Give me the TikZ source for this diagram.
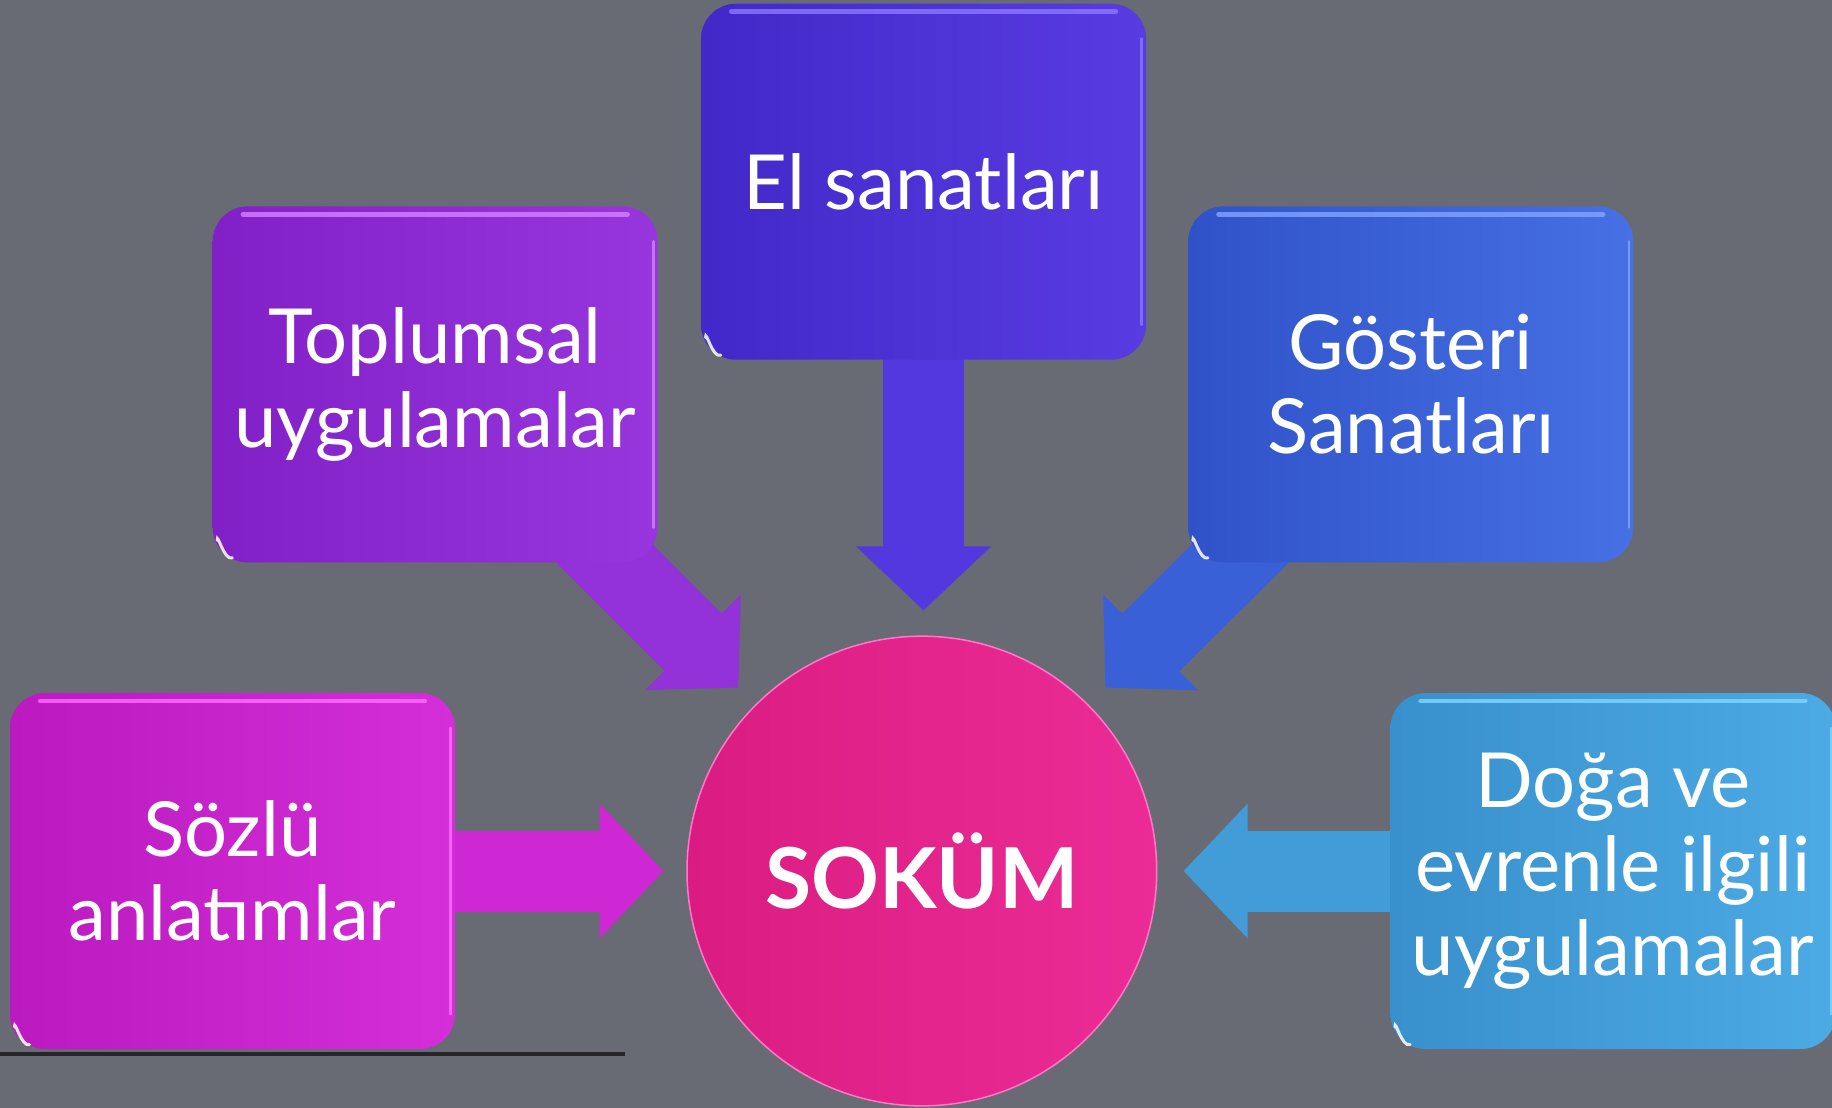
\documentclass[tikz,border=0pt]{standalone}
\usepackage{fontspec}
\setmainfont{Lato}
\usetikzlibrary{arrows.meta,calc}
\pgfdeclarelayer{bg}\pgfdeclarelayer{arr}\pgfsetlayers{bg,arr,main}
\definecolor{bggray}{RGB}{104,106,116}
\definecolor{elA}{RGB}{66,40,200}\definecolor{elB}{RGB}{88,60,226}\definecolor{elHi}{RGB}{140,120,255}
\definecolor{topA}{RGB}{128,32,198}\definecolor{topB}{RGB}{152,54,222}\definecolor{topHi}{RGB}{215,130,255}
\definecolor{gosA}{RGB}{48,82,200}\definecolor{gosB}{RGB}{70,112,228}\definecolor{gosHi}{RGB}{130,165,255}
\definecolor{sozA}{RGB}{186,26,192}\definecolor{sozB}{RGB}{212,46,216}\definecolor{sozHi}{RGB}{255,110,255}
\definecolor{dogA}{RGB}{56,144,204}\definecolor{dogB}{RGB}{76,170,228}\definecolor{dogHi}{RGB}{130,215,255}
\definecolor{sokA}{RGB}{218,28,130}\definecolor{sokB}{RGB}{236,44,150}\definecolor{sokHi}{RGB}{255,120,200}
\definecolor{elArr}{RGB}{82,56,222}\definecolor{topArr}{RGB}{146,50,216}\definecolor{gosArr}{RGB}{58,96,216}
\definecolor{sozArr}{RGB}{206,40,212}\definecolor{dogArr}{RGB}{66,156,216}
\begin{document}
\begin{tikzpicture}[x=1.16837pt,y=-1.16837pt,
  box/.style={rounded corners=35pt, minimum width=445pt, minimum height=356pt,
    align=center, text=white, inner sep=0pt, font=\fontsize{76}{84}\selectfont},
  blockarrow/.style={line width=81pt, -{Triangle[length=64pt,width=131pt]}},
  hiline/.style={line width=4.5pt, line cap=round, opacity=0.8},
  corner/.style={white, line width=3pt, line cap=round, opacity=0.85}]
\useasboundingbox (0,0) rectangle (1568,948);
\begin{pgfonlayer}{bg}
  \fill[bggray] (0,0) rectangle (1568,948);
  \draw[line width=3.5pt, black!85] (0,902) -- (535,902);
\end{pgfonlayer}

\node[box, left color=elA, right color=elB] (el) at (790.5,155.5) {El sanatları};
\node[box, left color=topA, right color=topB] (top) at (372.5,329) {Toplumsal\\uygulamalar};
\node[box, left color=gosA, right color=gosB] (gos) at (1207.5,329) {Gösteri\\Sanatları};
\node[box, left color=sozA, right color=sozB] (soz) at (199,745.5) {Sözlü\\anlatımlar};
\node[box, left color=dogA, right color=dogB] (dog) at (1380.5,745.5) {Doğa ve\\evrenle ilgili\\uygulamalar};
\node[circle, minimum size=469.7pt, inner sep=0pt, left color=sokA, right color=sokB,
  draw=sokHi, line width=1.5pt, text=white, font=\fontsize{84}{90}\selectfont\bfseries]
  (sok) at (789,745.5) {SOKÜM};

\coordinate (tEl) at ($(sok.center)+(0,-223)$);
\coordinate (tTop) at ($(sok.center)+(-157,-157)$);
\coordinate (tGos) at ($(sok.center)+(157,-157)$);
\coordinate (tSoz) at ($(sok.center)+(-221,0)$);
\coordinate (tDog) at ($(sok.center)+(224,0)$);

\begin{pgfonlayer}{arr}
  \draw[blockarrow, elArr] (el.center) -- (el.center |- tEl);
  \draw[blockarrow, topArr] (top.center) -- (tTop);
  \draw[blockarrow, gosArr] (gos.center) -- (tGos);
  \draw[blockarrow, sozArr] (soz.center) -- (tSoz);
  \draw[blockarrow, dogArr] (dog.center) -- (tDog);
\end{pgfonlayer}

\foreach \n/\c in {el/elHi, top/topHi, gos/gosHi, soz/sozHi, dog/dogHi}{
  \draw[hiline, \c] ($(\n.north west)+(26,7)$) -- ($(\n.north east)+(-26,7)$);
  \draw[hiline, \c, line width=2.5pt] ($(\n.north east)+(-4,30)$) -- ($(\n.south east)+(-4,-30)$);
  \draw[corner] ($(\n.south west)+(4,-19)$) to[out=90,in=200] ($(\n.south west)+(17,-4)$);
}
\end{tikzpicture}
\end{document}
